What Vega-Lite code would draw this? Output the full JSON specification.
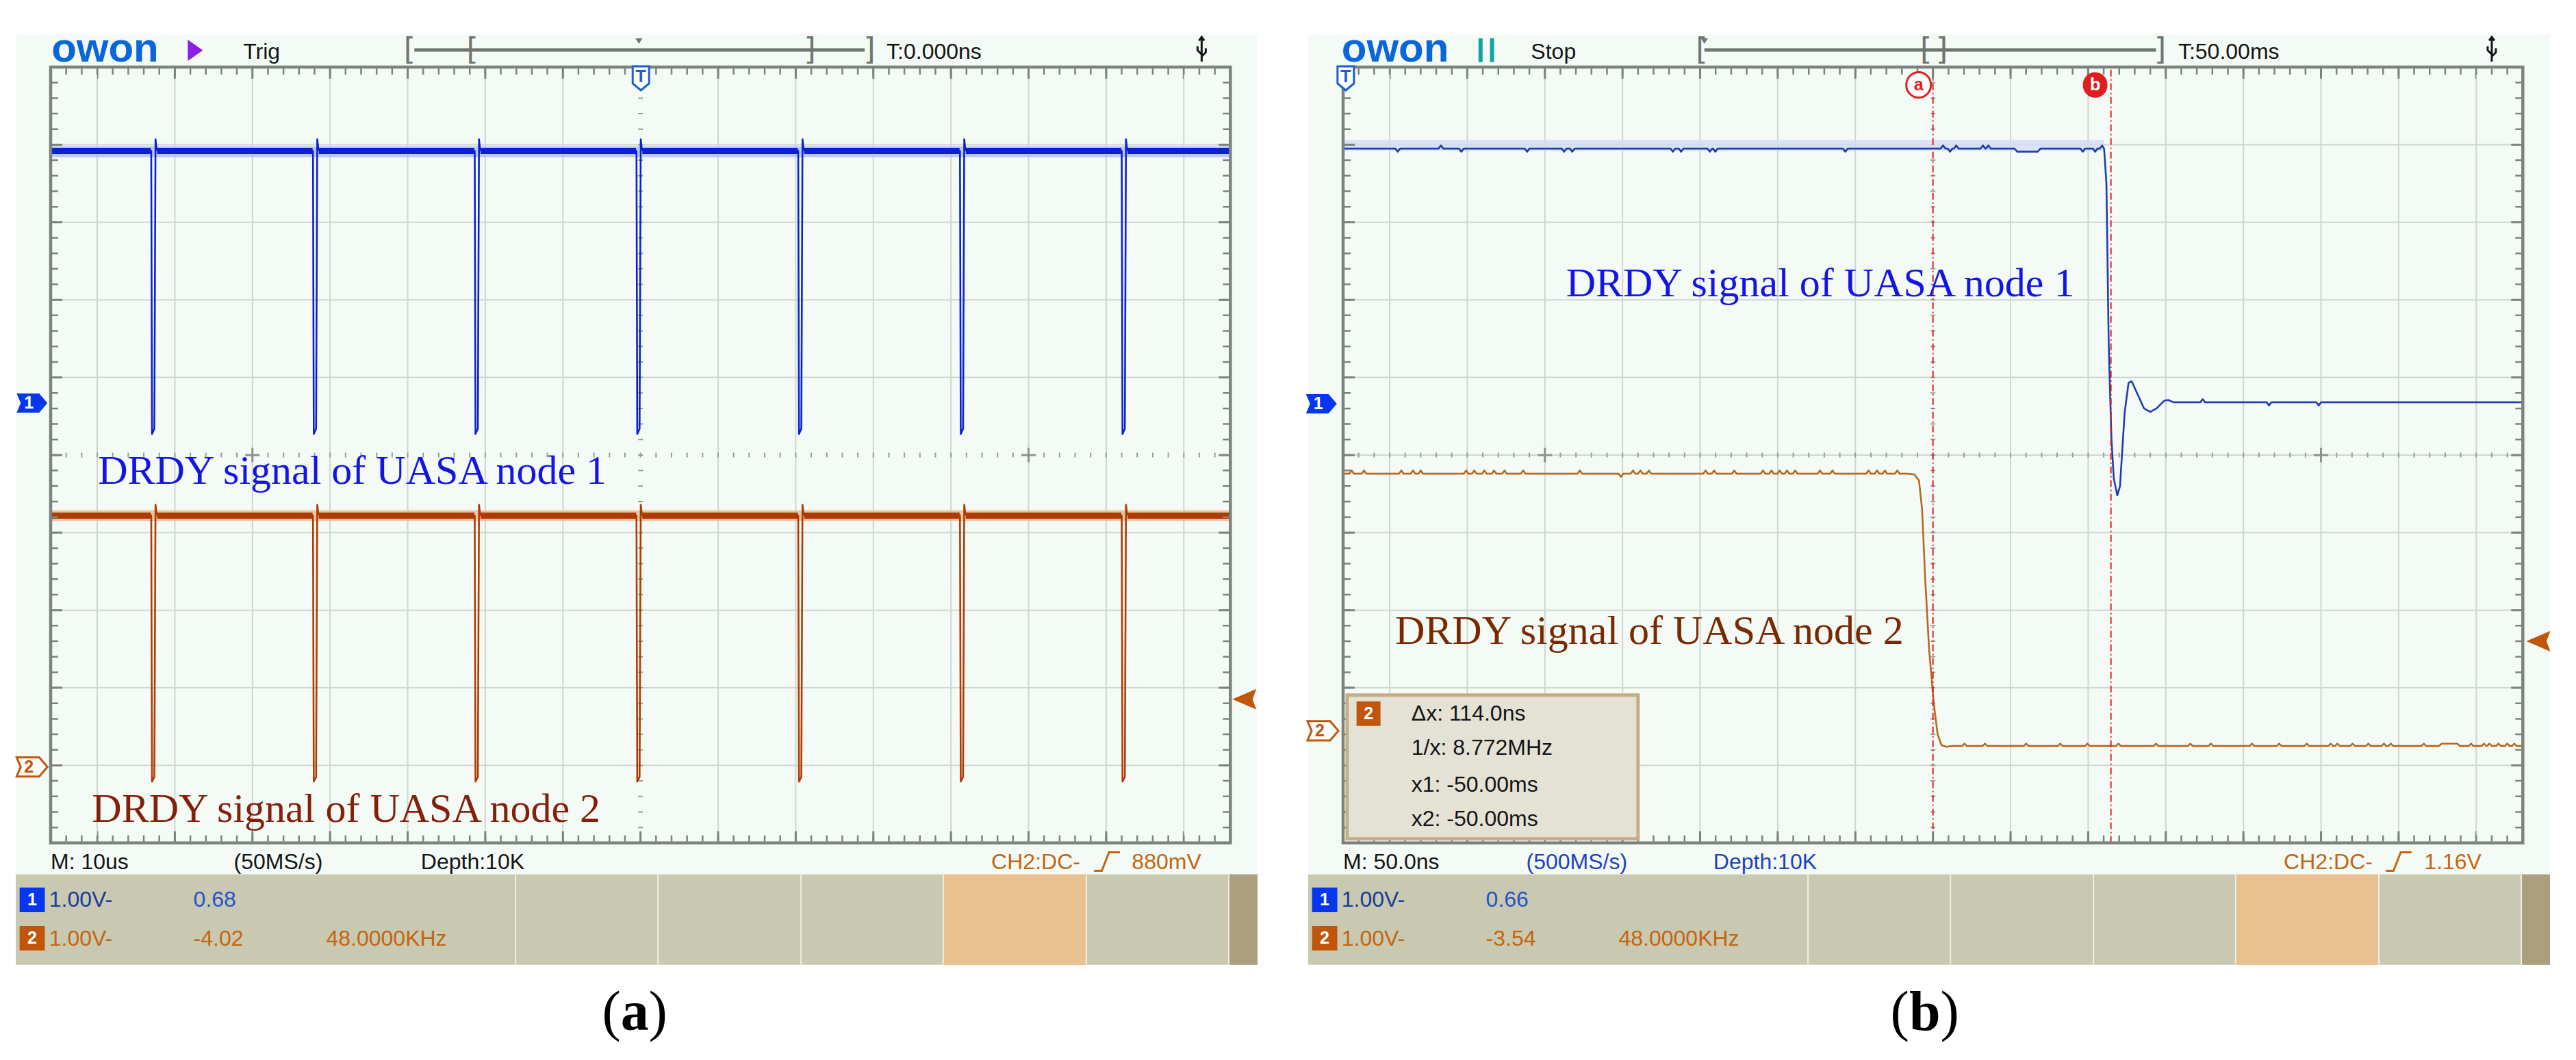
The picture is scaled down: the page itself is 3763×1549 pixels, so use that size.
{
"$schema": "https://vega.github.io/schema/vega-lite/v6.json",
"background": "white",
"padding": {"left": 13, "top": 30, "right": 0, "bottom": 0},
"bounds": "flush",
"spacing": 64,
"config": {"view": {"stroke": null, "fill": null}},
"data": {"values": [
{"p":"a","k":"bg","r":"panel","x":-8.05,"x2":7.95,"y":5.424,"y2":-6.57},
{"p":"a","k":"bg","r":"band","x":-8.05,"x2":7.95,"y":-5.406,"y2":-6.57},
{"p":"a","k":"bg","r":"cell","x":3.9,"x2":5.745,"y":-5.406,"y2":-6.57},
{"p":"a","k":"bg","r":"strip","x":7.58,"x2":7.95,"y":-5.406,"y2":-6.57},
{"p":"b","k":"bg","r":"panel","x":-8.05,"x2":7.95,"y":5.424,"y2":-6.57},
{"p":"b","k":"bg","r":"band","x":-8.05,"x2":7.95,"y":-5.406,"y2":-6.57},
{"p":"b","k":"bg","r":"cell","x":3.9,"x2":5.745,"y":-5.406,"y2":-6.57},
{"p":"b","k":"bg","r":"strip","x":7.58,"x2":7.95,"y":-5.406,"y2":-6.57},

{"p":"a","k":"grid","r":"grid","x":-7,"x2":-7,"y":-5,"y2":5},
{"p":"a","k":"grid","r":"grid","x":-6,"x2":-6,"y":-5,"y2":5},
{"p":"a","k":"grid","r":"grid","x":-5,"x2":-5,"y":-5,"y2":5},
{"p":"a","k":"grid","r":"grid","x":-4,"x2":-4,"y":-5,"y2":5},
{"p":"a","k":"grid","r":"grid","x":-3,"x2":-3,"y":-5,"y2":5},
{"p":"a","k":"grid","r":"grid","x":-2,"x2":-2,"y":-5,"y2":5},
{"p":"a","k":"grid","r":"grid","x":-1,"x2":-1,"y":-5,"y2":5},
{"p":"a","k":"grid","r":"grid","x":1,"x2":1,"y":-5,"y2":5},
{"p":"a","k":"grid","r":"grid","x":2,"x2":2,"y":-5,"y2":5},
{"p":"a","k":"grid","r":"grid","x":3,"x2":3,"y":-5,"y2":5},
{"p":"a","k":"grid","r":"grid","x":4,"x2":4,"y":-5,"y2":5},
{"p":"a","k":"grid","r":"grid","x":5,"x2":5,"y":-5,"y2":5},
{"p":"a","k":"grid","r":"grid","x":6,"x2":6,"y":-5,"y2":5},
{"p":"a","k":"grid","r":"grid","x":7,"x2":7,"y":-5,"y2":5},
{"p":"a","k":"grid","r":"grid","x":-7.6,"x2":7.6,"y":-4,"y2":-4},
{"p":"a","k":"grid","r":"grid","x":-7.6,"x2":7.6,"y":-3,"y2":-3},
{"p":"a","k":"grid","r":"grid","x":-7.6,"x2":7.6,"y":-2,"y2":-2},
{"p":"a","k":"grid","r":"grid","x":-7.6,"x2":7.6,"y":-1,"y2":-1},
{"p":"a","k":"grid","r":"grid","x":-7.6,"x2":7.6,"y":1,"y2":1},
{"p":"a","k":"grid","r":"grid","x":-7.6,"x2":7.6,"y":2,"y2":2},
{"p":"a","k":"grid","r":"grid","x":-7.6,"x2":7.6,"y":3,"y2":3},
{"p":"a","k":"grid","r":"grid","x":-7.6,"x2":7.6,"y":4,"y2":4},
{"p":"a","k":"grid","r":"sep","x":-1.61,"x2":-1.61,"y":-5.406,"y2":-6.57},
{"p":"a","k":"grid","r":"sep","x":0.225,"x2":0.225,"y":-5.406,"y2":-6.57},
{"p":"a","k":"grid","r":"sep","x":2.068,"x2":2.068,"y":-5.406,"y2":-6.57},
{"p":"a","k":"grid","r":"sep","x":3.9,"x2":3.9,"y":-5.406,"y2":-6.57},
{"p":"a","k":"grid","r":"sep","x":5.745,"x2":5.745,"y":-5.406,"y2":-6.57},
{"p":"a","k":"grid","r":"sep","x":7.58,"x2":7.58,"y":-5.406,"y2":-6.57},
{"p":"b","k":"grid","r":"grid","x":-7,"x2":-7,"y":-5,"y2":5},
{"p":"b","k":"grid","r":"grid","x":-6,"x2":-6,"y":-5,"y2":5},
{"p":"b","k":"grid","r":"grid","x":-5,"x2":-5,"y":-5,"y2":5},
{"p":"b","k":"grid","r":"grid","x":-4,"x2":-4,"y":-5,"y2":5},
{"p":"b","k":"grid","r":"grid","x":-3,"x2":-3,"y":-5,"y2":5},
{"p":"b","k":"grid","r":"grid","x":-2,"x2":-2,"y":-5,"y2":5},
{"p":"b","k":"grid","r":"grid","x":-1,"x2":-1,"y":-5,"y2":5},
{"p":"b","k":"grid","r":"grid","x":1,"x2":1,"y":-5,"y2":5},
{"p":"b","k":"grid","r":"grid","x":2,"x2":2,"y":-5,"y2":5},
{"p":"b","k":"grid","r":"grid","x":3,"x2":3,"y":-5,"y2":5},
{"p":"b","k":"grid","r":"grid","x":4,"x2":4,"y":-5,"y2":5},
{"p":"b","k":"grid","r":"grid","x":5,"x2":5,"y":-5,"y2":5},
{"p":"b","k":"grid","r":"grid","x":6,"x2":6,"y":-5,"y2":5},
{"p":"b","k":"grid","r":"grid","x":7,"x2":7,"y":-5,"y2":5},
{"p":"b","k":"grid","r":"grid","x":-7.6,"x2":7.6,"y":-4,"y2":-4},
{"p":"b","k":"grid","r":"grid","x":-7.6,"x2":7.6,"y":-3,"y2":-3},
{"p":"b","k":"grid","r":"grid","x":-7.6,"x2":7.6,"y":-2,"y2":-2},
{"p":"b","k":"grid","r":"grid","x":-7.6,"x2":7.6,"y":-1,"y2":-1},
{"p":"b","k":"grid","r":"grid","x":-7.6,"x2":7.6,"y":0,"y2":0},
{"p":"b","k":"grid","r":"grid","x":-7.6,"x2":7.6,"y":1,"y2":1},
{"p":"b","k":"grid","r":"grid","x":-7.6,"x2":7.6,"y":2,"y2":2},
{"p":"b","k":"grid","r":"grid","x":-7.6,"x2":7.6,"y":3,"y2":3},
{"p":"b","k":"grid","r":"grid","x":-7.6,"x2":7.6,"y":4,"y2":4},
{"p":"b","k":"grid","r":"sep","x":-1.61,"x2":-1.61,"y":-5.406,"y2":-6.57},
{"p":"b","k":"grid","r":"sep","x":0.225,"x2":0.225,"y":-5.406,"y2":-6.57},
{"p":"b","k":"grid","r":"sep","x":2.068,"x2":2.068,"y":-5.406,"y2":-6.57},
{"p":"b","k":"grid","r":"sep","x":3.9,"x2":3.9,"y":-5.406,"y2":-6.57},
{"p":"b","k":"grid","r":"sep","x":5.745,"x2":5.745,"y":-5.406,"y2":-6.57},
{"p":"b","k":"grid","r":"sep","x":7.58,"x2":7.58,"y":-5.406,"y2":-6.57},

{"p":"a","k":"ct","r":"ctick","x":-7.6,"x2":7.6,"y":0,"y2":0},
{"p":"a","k":"ct","r":"ctick","x":0,"x2":0,"y":-5,"y2":5},
{"p":"b","k":"ct","r":"ctick","x":-7.6,"x2":7.6,"y":0,"y2":0},
{"p":"b","k":"ct","r":"ctick","x":0,"x2":0,"y":-5,"y2":5},

{"p":"a","k":"halo","r":"halo1","x":-7.6,"x2":7.6,"y":3.91,"y2":3.91},
{"p":"a","k":"halo","r":"halo2","x":-7.6,"x2":7.6,"y":-0.78,"y2":-0.78},
{"p":"b","k":"halo","r":"halo1b","x":-7.6,"x2":2.2,"y":3.99,"y2":3.99},

{"p":"a","k":"tr","r":"ch1a","x":-7.6,"y":3.92},
{"p":"a","k":"tr","r":"ch1a","x":-6.304,"y":3.92},
{"p":"a","k":"tr","r":"ch1a","x":-6.294,"y":0.27},
{"p":"a","k":"tr","r":"ch1a","x":-6.264,"y":0.34},
{"p":"a","k":"tr","r":"ch1a","x":-6.249,"y":4.07},
{"p":"a","k":"tr","r":"ch1a","x":-6.234,"y":3.93},
{"p":"a","k":"tr","r":"ch1a","x":-4.22,"y":3.92},
{"p":"a","k":"tr","r":"ch1a","x":-4.21,"y":0.27},
{"p":"a","k":"tr","r":"ch1a","x":-4.18,"y":0.34},
{"p":"a","k":"tr","r":"ch1a","x":-4.165,"y":4.07},
{"p":"a","k":"tr","r":"ch1a","x":-4.15,"y":3.93},
{"p":"a","k":"tr","r":"ch1a","x":-2.136,"y":3.92},
{"p":"a","k":"tr","r":"ch1a","x":-2.126,"y":0.27},
{"p":"a","k":"tr","r":"ch1a","x":-2.096,"y":0.34},
{"p":"a","k":"tr","r":"ch1a","x":-2.081,"y":4.07},
{"p":"a","k":"tr","r":"ch1a","x":-2.066,"y":3.93},
{"p":"a","k":"tr","r":"ch1a","x":-0.052,"y":3.92},
{"p":"a","k":"tr","r":"ch1a","x":-0.042,"y":0.27},
{"p":"a","k":"tr","r":"ch1a","x":-0.012,"y":0.34},
{"p":"a","k":"tr","r":"ch1a","x":0.003,"y":4.07},
{"p":"a","k":"tr","r":"ch1a","x":0.018,"y":3.93},
{"p":"a","k":"tr","r":"ch1a","x":2.032,"y":3.92},
{"p":"a","k":"tr","r":"ch1a","x":2.042,"y":0.27},
{"p":"a","k":"tr","r":"ch1a","x":2.072,"y":0.34},
{"p":"a","k":"tr","r":"ch1a","x":2.087,"y":4.07},
{"p":"a","k":"tr","r":"ch1a","x":2.102,"y":3.93},
{"p":"a","k":"tr","r":"ch1a","x":4.116,"y":3.92},
{"p":"a","k":"tr","r":"ch1a","x":4.126,"y":0.27},
{"p":"a","k":"tr","r":"ch1a","x":4.156,"y":0.34},
{"p":"a","k":"tr","r":"ch1a","x":4.171,"y":4.07},
{"p":"a","k":"tr","r":"ch1a","x":4.186,"y":3.93},
{"p":"a","k":"tr","r":"ch1a","x":6.2,"y":3.92},
{"p":"a","k":"tr","r":"ch1a","x":6.21,"y":0.27},
{"p":"a","k":"tr","r":"ch1a","x":6.24,"y":0.34},
{"p":"a","k":"tr","r":"ch1a","x":6.255,"y":4.07},
{"p":"a","k":"tr","r":"ch1a","x":6.27,"y":3.93},
{"p":"a","k":"tr","r":"ch1a","x":7.6,"y":3.92},

{"p":"a","k":"tr","r":"ch2a","x":-7.6,"y":-0.78},
{"p":"a","k":"tr","r":"ch2a","x":-6.304,"y":-0.78},
{"p":"a","k":"tr","r":"ch2a","x":-6.294,"y":-4.21},
{"p":"a","k":"tr","r":"ch2a","x":-6.264,"y":-4.15},
{"p":"a","k":"tr","r":"ch2a","x":-6.249,"y":-0.64},
{"p":"a","k":"tr","r":"ch2a","x":-6.234,"y":-0.77},
{"p":"a","k":"tr","r":"ch2a","x":-4.22,"y":-0.78},
{"p":"a","k":"tr","r":"ch2a","x":-4.21,"y":-4.21},
{"p":"a","k":"tr","r":"ch2a","x":-4.18,"y":-4.15},
{"p":"a","k":"tr","r":"ch2a","x":-4.165,"y":-0.64},
{"p":"a","k":"tr","r":"ch2a","x":-4.15,"y":-0.77},
{"p":"a","k":"tr","r":"ch2a","x":-2.136,"y":-0.78},
{"p":"a","k":"tr","r":"ch2a","x":-2.126,"y":-4.21},
{"p":"a","k":"tr","r":"ch2a","x":-2.096,"y":-4.15},
{"p":"a","k":"tr","r":"ch2a","x":-2.081,"y":-0.64},
{"p":"a","k":"tr","r":"ch2a","x":-2.066,"y":-0.77},
{"p":"a","k":"tr","r":"ch2a","x":-0.052,"y":-0.78},
{"p":"a","k":"tr","r":"ch2a","x":-0.042,"y":-4.21},
{"p":"a","k":"tr","r":"ch2a","x":-0.012,"y":-4.15},
{"p":"a","k":"tr","r":"ch2a","x":0.003,"y":-0.64},
{"p":"a","k":"tr","r":"ch2a","x":0.018,"y":-0.77},
{"p":"a","k":"tr","r":"ch2a","x":2.032,"y":-0.78},
{"p":"a","k":"tr","r":"ch2a","x":2.042,"y":-4.21},
{"p":"a","k":"tr","r":"ch2a","x":2.072,"y":-4.15},
{"p":"a","k":"tr","r":"ch2a","x":2.087,"y":-0.64},
{"p":"a","k":"tr","r":"ch2a","x":2.102,"y":-0.77},
{"p":"a","k":"tr","r":"ch2a","x":4.116,"y":-0.78},
{"p":"a","k":"tr","r":"ch2a","x":4.126,"y":-4.21},
{"p":"a","k":"tr","r":"ch2a","x":4.156,"y":-4.15},
{"p":"a","k":"tr","r":"ch2a","x":4.171,"y":-0.64},
{"p":"a","k":"tr","r":"ch2a","x":4.186,"y":-0.77},
{"p":"a","k":"tr","r":"ch2a","x":6.2,"y":-0.78},
{"p":"a","k":"tr","r":"ch2a","x":6.21,"y":-4.21},
{"p":"a","k":"tr","r":"ch2a","x":6.24,"y":-4.15},
{"p":"a","k":"tr","r":"ch2a","x":6.255,"y":-0.64},
{"p":"a","k":"tr","r":"ch2a","x":6.27,"y":-0.77},
{"p":"a","k":"tr","r":"ch2a","x":7.6,"y":-0.78},

{"p":"b","k":"tr","r":"ch1b","x":-7.6,"y":3.95},
{"p":"b","k":"tr","r":"ch1b","x":-6.926,"y":3.95},{"p":"b","k":"tr","r":"ch1b","x":-6.896,"y":3.91},{"p":"b","k":"tr","r":"ch1b","x":-6.866,"y":3.95},
{"p":"b","k":"tr","r":"ch1b","x":-6.37,"y":3.95},{"p":"b","k":"tr","r":"ch1b","x":-6.34,"y":3.99},{"p":"b","k":"tr","r":"ch1b","x":-6.31,"y":3.95},
{"p":"b","k":"tr","r":"ch1b","x":-6.106,"y":3.95},{"p":"b","k":"tr","r":"ch1b","x":-6.076,"y":3.91},{"p":"b","k":"tr","r":"ch1b","x":-6.046,"y":3.95},
{"p":"b","k":"tr","r":"ch1b","x":-5.259,"y":3.95},{"p":"b","k":"tr","r":"ch1b","x":-5.229,"y":3.91},{"p":"b","k":"tr","r":"ch1b","x":-5.199,"y":3.95},
{"p":"b","k":"tr","r":"ch1b","x":-4.783,"y":3.95},{"p":"b","k":"tr","r":"ch1b","x":-4.753,"y":3.91},{"p":"b","k":"tr","r":"ch1b","x":-4.723,"y":3.95},
{"p":"b","k":"tr","r":"ch1b","x":-4.677,"y":3.95},{"p":"b","k":"tr","r":"ch1b","x":-4.647,"y":3.91},{"p":"b","k":"tr","r":"ch1b","x":-4.617,"y":3.95},
{"p":"b","k":"tr","r":"ch1b","x":-3.381,"y":3.95},{"p":"b","k":"tr","r":"ch1b","x":-3.351,"y":3.91},{"p":"b","k":"tr","r":"ch1b","x":-3.321,"y":3.95},
{"p":"b","k":"tr","r":"ch1b","x":-3.275,"y":3.95},{"p":"b","k":"tr","r":"ch1b","x":-3.245,"y":3.91},{"p":"b","k":"tr","r":"ch1b","x":-3.215,"y":3.95},
{"p":"b","k":"tr","r":"ch1b","x":-2.905,"y":3.95},{"p":"b","k":"tr","r":"ch1b","x":-2.875,"y":3.91},{"p":"b","k":"tr","r":"ch1b","x":-2.845,"y":3.95},
{"p":"b","k":"tr","r":"ch1b","x":-2.834,"y":3.95},{"p":"b","k":"tr","r":"ch1b","x":-2.804,"y":3.91},{"p":"b","k":"tr","r":"ch1b","x":-2.774,"y":3.95},
{"p":"b","k":"tr","r":"ch1b","x":-1.159,"y":3.95},{"p":"b","k":"tr","r":"ch1b","x":-1.129,"y":3.91},{"p":"b","k":"tr","r":"ch1b","x":-1.099,"y":3.95},
{"p":"b","k":"tr","r":"ch1b","x":0.1,"y":3.95},{"p":"b","k":"tr","r":"ch1b","x":0.13,"y":3.99},{"p":"b","k":"tr","r":"ch1b","x":0.16,"y":3.95},
{"p":"b","k":"tr","r":"ch1b","x":0.19,"y":3.95},{"p":"b","k":"tr","r":"ch1b","x":0.22,"y":3.91},{"p":"b","k":"tr","r":"ch1b","x":0.25,"y":3.95},
{"p":"b","k":"tr","r":"ch1b","x":0.27,"y":3.95},{"p":"b","k":"tr","r":"ch1b","x":0.3,"y":3.99},{"p":"b","k":"tr","r":"ch1b","x":0.33,"y":3.95},
{"p":"b","k":"tr","r":"ch1b","x":0.614,"y":3.95},{"p":"b","k":"tr","r":"ch1b","x":0.644,"y":3.99},{"p":"b","k":"tr","r":"ch1b","x":0.674,"y":3.95},
{"p":"b","k":"tr","r":"ch1b","x":0.684,"y":3.95},{"p":"b","k":"tr","r":"ch1b","x":0.714,"y":3.99},{"p":"b","k":"tr","r":"ch1b","x":0.744,"y":3.95},
{"p":"b","k":"tr","r":"ch1b","x":1.05,"y":3.95},{"p":"b","k":"tr","r":"ch1b","x":1.085,"y":3.91},{"p":"b","k":"tr","r":"ch1b","x":1.35,"y":3.91},{"p":"b","k":"tr","r":"ch1b","x":1.385,"y":3.95},
{"p":"b","k":"tr","r":"ch1b","x":1.9,"y":3.95},{"p":"b","k":"tr","r":"ch1b","x":1.93,"y":3.91},{"p":"b","k":"tr","r":"ch1b","x":1.96,"y":3.95},
{"p":"b","k":"tr","r":"ch1b","x":2.06,"y":3.95},{"p":"b","k":"tr","r":"ch1b","x":2.09,"y":3.91},{"p":"b","k":"tr","r":"ch1b","x":2.12,"y":3.95},
{"p":"b","k":"tr","r":"ch1b","x":2.15,"y":3.95},{"p":"b","k":"tr","r":"ch1b","x":2.18,"y":3.99},{"p":"b","k":"tr","r":"ch1b","x":2.205,"y":3.95},
{"p":"b","k":"tr","r":"ch1b","x":2.235,"y":3.5},{"p":"b","k":"tr","r":"ch1b","x":2.265,"y":1.4},{"p":"b","k":"tr","r":"ch1b","x":2.3,"y":0.2},
{"p":"b","k":"tr","r":"ch1b","x":2.33,"y":-0.3},{"p":"b","k":"tr","r":"ch1b","x":2.375,"y":-0.52},{"p":"b","k":"tr","r":"ch1b","x":2.41,"y":-0.4},
{"p":"b","k":"tr","r":"ch1b","x":2.47,"y":0.55},{"p":"b","k":"tr","r":"ch1b","x":2.52,"y":0.93},{"p":"b","k":"tr","r":"ch1b","x":2.56,"y":0.95},
{"p":"b","k":"tr","r":"ch1b","x":2.62,"y":0.82},{"p":"b","k":"tr","r":"ch1b","x":2.72,"y":0.6},{"p":"b","k":"tr","r":"ch1b","x":2.8,"y":0.556},
{"p":"b","k":"tr","r":"ch1b","x":2.88,"y":0.6},{"p":"b","k":"tr","r":"ch1b","x":2.98,"y":0.7},{"p":"b","k":"tr","r":"ch1b","x":3.03,"y":0.71},
{"p":"b","k":"tr","r":"ch1b","x":3.1,"y":0.68},{"p":"b","k":"tr","r":"ch1b","x":3.445,"y":0.68},{"p":"b","k":"tr","r":"ch1b","x":3.475,"y":0.72},
{"p":"b","k":"tr","r":"ch1b","x":3.505,"y":0.68},{"p":"b","k":"tr","r":"ch1b","x":4.3,"y":0.68},{"p":"b","k":"tr","r":"ch1b","x":4.33,"y":0.64},
{"p":"b","k":"tr","r":"ch1b","x":4.36,"y":0.68},{"p":"b","k":"tr","r":"ch1b","x":4.94,"y":0.68},{"p":"b","k":"tr","r":"ch1b","x":4.97,"y":0.64},
{"p":"b","k":"tr","r":"ch1b","x":5.0,"y":0.68},{"p":"b","k":"tr","r":"ch1b","x":7.6,"y":0.68},

{"p":"b","k":"tr","r":"ch2b","x":-7.6,"y":-0.24},
{"p":"b","k":"tr","r":"ch2b","x":-7.52,"y":-0.24},{"p":"b","k":"tr","r":"ch2b","x":-7.49,"y":-0.2},{"p":"b","k":"tr","r":"ch2b","x":-7.46,"y":-0.24},
{"p":"b","k":"tr","r":"ch2b","x":-7.36,"y":-0.24},{"p":"b","k":"tr","r":"ch2b","x":-7.33,"y":-0.2},{"p":"b","k":"tr","r":"ch2b","x":-7.3,"y":-0.24},
{"p":"b","k":"tr","r":"ch2b","x":-6.88,"y":-0.24},{"p":"b","k":"tr","r":"ch2b","x":-6.85,"y":-0.2},{"p":"b","k":"tr","r":"ch2b","x":-6.82,"y":-0.24},
{"p":"b","k":"tr","r":"ch2b","x":-6.73,"y":-0.24},{"p":"b","k":"tr","r":"ch2b","x":-6.7,"y":-0.2},{"p":"b","k":"tr","r":"ch2b","x":-6.67,"y":-0.24},
{"p":"b","k":"tr","r":"ch2b","x":-6.63,"y":-0.24},{"p":"b","k":"tr","r":"ch2b","x":-6.6,"y":-0.2},{"p":"b","k":"tr","r":"ch2b","x":-6.57,"y":-0.24},
{"p":"b","k":"tr","r":"ch2b","x":-6.045,"y":-0.24},{"p":"b","k":"tr","r":"ch2b","x":-6.015,"y":-0.2},{"p":"b","k":"tr","r":"ch2b","x":-5.985,"y":-0.24},
{"p":"b","k":"tr","r":"ch2b","x":-5.94,"y":-0.24},{"p":"b","k":"tr","r":"ch2b","x":-5.91,"y":-0.2},{"p":"b","k":"tr","r":"ch2b","x":-5.88,"y":-0.24},
{"p":"b","k":"tr","r":"ch2b","x":-5.81,"y":-0.24},{"p":"b","k":"tr","r":"ch2b","x":-5.78,"y":-0.2},{"p":"b","k":"tr","r":"ch2b","x":-5.75,"y":-0.24},
{"p":"b","k":"tr","r":"ch2b","x":-5.685,"y":-0.24},{"p":"b","k":"tr","r":"ch2b","x":-5.655,"y":-0.2},{"p":"b","k":"tr","r":"ch2b","x":-5.625,"y":-0.24},
{"p":"b","k":"tr","r":"ch2b","x":-5.55,"y":-0.24},{"p":"b","k":"tr","r":"ch2b","x":-5.52,"y":-0.2},{"p":"b","k":"tr","r":"ch2b","x":-5.49,"y":-0.24},
{"p":"b","k":"tr","r":"ch2b","x":-5.31,"y":-0.24},{"p":"b","k":"tr","r":"ch2b","x":-5.28,"y":-0.2},{"p":"b","k":"tr","r":"ch2b","x":-5.25,"y":-0.24},
{"p":"b","k":"tr","r":"ch2b","x":-4.58,"y":-0.24},{"p":"b","k":"tr","r":"ch2b","x":-4.55,"y":-0.2},{"p":"b","k":"tr","r":"ch2b","x":-4.52,"y":-0.24},
{"p":"b","k":"tr","r":"ch2b","x":-4.05,"y":-0.24},{"p":"b","k":"tr","r":"ch2b","x":-4.02,"y":-0.28},{"p":"b","k":"tr","r":"ch2b","x":-3.99,"y":-0.24},
{"p":"b","k":"tr","r":"ch2b","x":-3.895,"y":-0.24},{"p":"b","k":"tr","r":"ch2b","x":-3.865,"y":-0.2},{"p":"b","k":"tr","r":"ch2b","x":-3.835,"y":-0.24},
{"p":"b","k":"tr","r":"ch2b","x":-3.8,"y":-0.24},{"p":"b","k":"tr","r":"ch2b","x":-3.77,"y":-0.2},{"p":"b","k":"tr","r":"ch2b","x":-3.74,"y":-0.24},
{"p":"b","k":"tr","r":"ch2b","x":-3.69,"y":-0.24},{"p":"b","k":"tr","r":"ch2b","x":-3.66,"y":-0.2},{"p":"b","k":"tr","r":"ch2b","x":-3.63,"y":-0.24},
{"p":"b","k":"tr","r":"ch2b","x":-2.96,"y":-0.24},{"p":"b","k":"tr","r":"ch2b","x":-2.93,"y":-0.2},{"p":"b","k":"tr","r":"ch2b","x":-2.9,"y":-0.24},
{"p":"b","k":"tr","r":"ch2b","x":-2.85,"y":-0.24},{"p":"b","k":"tr","r":"ch2b","x":-2.82,"y":-0.2},{"p":"b","k":"tr","r":"ch2b","x":-2.79,"y":-0.24},
{"p":"b","k":"tr","r":"ch2b","x":-2.59,"y":-0.24},{"p":"b","k":"tr","r":"ch2b","x":-2.56,"y":-0.2},{"p":"b","k":"tr","r":"ch2b","x":-2.53,"y":-0.24},
{"p":"b","k":"tr","r":"ch2b","x":-2.22,"y":-0.24},{"p":"b","k":"tr","r":"ch2b","x":-2.19,"y":-0.2},{"p":"b","k":"tr","r":"ch2b","x":-2.16,"y":-0.24},
{"p":"b","k":"tr","r":"ch2b","x":-2.11,"y":-0.24},{"p":"b","k":"tr","r":"ch2b","x":-2.08,"y":-0.2},{"p":"b","k":"tr","r":"ch2b","x":-2.05,"y":-0.24},
{"p":"b","k":"tr","r":"ch2b","x":-2.005,"y":-0.24},{"p":"b","k":"tr","r":"ch2b","x":-1.975,"y":-0.2},{"p":"b","k":"tr","r":"ch2b","x":-1.945,"y":-0.24},
{"p":"b","k":"tr","r":"ch2b","x":-1.91,"y":-0.24},{"p":"b","k":"tr","r":"ch2b","x":-1.88,"y":-0.2},{"p":"b","k":"tr","r":"ch2b","x":-1.85,"y":-0.24},
{"p":"b","k":"tr","r":"ch2b","x":-1.805,"y":-0.24},{"p":"b","k":"tr","r":"ch2b","x":-1.775,"y":-0.2},{"p":"b","k":"tr","r":"ch2b","x":-1.745,"y":-0.24},
{"p":"b","k":"tr","r":"ch2b","x":-1.485,"y":-0.24},{"p":"b","k":"tr","r":"ch2b","x":-1.455,"y":-0.2},{"p":"b","k":"tr","r":"ch2b","x":-1.425,"y":-0.24},
{"p":"b","k":"tr","r":"ch2b","x":-1.325,"y":-0.24},{"p":"b","k":"tr","r":"ch2b","x":-1.295,"y":-0.2},{"p":"b","k":"tr","r":"ch2b","x":-1.265,"y":-0.24},
{"p":"b","k":"tr","r":"ch2b","x":-0.86,"y":-0.24},{"p":"b","k":"tr","r":"ch2b","x":-0.83,"y":-0.2},{"p":"b","k":"tr","r":"ch2b","x":-0.8,"y":-0.24},
{"p":"b","k":"tr","r":"ch2b","x":-0.75,"y":-0.24},{"p":"b","k":"tr","r":"ch2b","x":-0.72,"y":-0.2},{"p":"b","k":"tr","r":"ch2b","x":-0.69,"y":-0.24},
{"p":"b","k":"tr","r":"ch2b","x":-0.65,"y":-0.24},{"p":"b","k":"tr","r":"ch2b","x":-0.62,"y":-0.2},{"p":"b","k":"tr","r":"ch2b","x":-0.59,"y":-0.24},
{"p":"b","k":"tr","r":"ch2b","x":-0.49,"y":-0.24},{"p":"b","k":"tr","r":"ch2b","x":-0.46,"y":-0.2},{"p":"b","k":"tr","r":"ch2b","x":-0.43,"y":-0.24},
{"p":"b","k":"tr","r":"ch2b","x":-0.33,"y":-0.24},{"p":"b","k":"tr","r":"ch2b","x":-0.24,"y":-0.25},{"p":"b","k":"tr","r":"ch2b","x":-0.18,"y":-0.33},
{"p":"b","k":"tr","r":"ch2b","x":-0.14,"y":-0.7},{"p":"b","k":"tr","r":"ch2b","x":-0.1,"y":-1.6},{"p":"b","k":"tr","r":"ch2b","x":-0.05,"y":-2.5},
{"p":"b","k":"tr","r":"ch2b","x":0.01,"y":-3.2},{"p":"b","k":"tr","r":"ch2b","x":0.06,"y":-3.6},{"p":"b","k":"tr","r":"ch2b","x":0.11,"y":-3.74},
{"p":"b","k":"tr","r":"ch2b","x":0.17,"y":-3.76},{"p":"b","k":"tr","r":"ch2b","x":0.25,"y":-3.75},
{"p":"b","k":"tr","r":"ch2b","x":0.376,"y":-3.75},{"p":"b","k":"tr","r":"ch2b","x":0.406,"y":-3.72},{"p":"b","k":"tr","r":"ch2b","x":0.436,"y":-3.75},
{"p":"b","k":"tr","r":"ch2b","x":0.64,"y":-3.75},{"p":"b","k":"tr","r":"ch2b","x":0.67,"y":-3.72},{"p":"b","k":"tr","r":"ch2b","x":0.7,"y":-3.75},
{"p":"b","k":"tr","r":"ch2b","x":1.17,"y":-3.75},{"p":"b","k":"tr","r":"ch2b","x":1.2,"y":-3.72},{"p":"b","k":"tr","r":"ch2b","x":1.23,"y":-3.75},
{"p":"b","k":"tr","r":"ch2b","x":1.61,"y":-3.75},{"p":"b","k":"tr","r":"ch2b","x":1.64,"y":-3.72},{"p":"b","k":"tr","r":"ch2b","x":1.67,"y":-3.75},
{"p":"b","k":"tr","r":"ch2b","x":1.96,"y":-3.75},{"p":"b","k":"tr","r":"ch2b","x":1.99,"y":-3.72},{"p":"b","k":"tr","r":"ch2b","x":2.02,"y":-3.75},
{"p":"b","k":"tr","r":"ch2b","x":2.36,"y":-3.75},{"p":"b","k":"tr","r":"ch2b","x":2.39,"y":-3.72},{"p":"b","k":"tr","r":"ch2b","x":2.42,"y":-3.75},
{"p":"b","k":"tr","r":"ch2b","x":2.845,"y":-3.75},{"p":"b","k":"tr","r":"ch2b","x":2.875,"y":-3.72},{"p":"b","k":"tr","r":"ch2b","x":2.905,"y":-3.75},
{"p":"b","k":"tr","r":"ch2b","x":3.286,"y":-3.75},{"p":"b","k":"tr","r":"ch2b","x":3.316,"y":-3.72},{"p":"b","k":"tr","r":"ch2b","x":3.346,"y":-3.75},
{"p":"b","k":"tr","r":"ch2b","x":3.55,"y":-3.75},{"p":"b","k":"tr","r":"ch2b","x":3.58,"y":-3.72},{"p":"b","k":"tr","r":"ch2b","x":3.61,"y":-3.75},
{"p":"b","k":"tr","r":"ch2b","x":4.08,"y":-3.75},{"p":"b","k":"tr","r":"ch2b","x":4.11,"y":-3.72},{"p":"b","k":"tr","r":"ch2b","x":4.14,"y":-3.75},
{"p":"b","k":"tr","r":"ch2b","x":4.43,"y":-3.75},{"p":"b","k":"tr","r":"ch2b","x":4.46,"y":-3.72},{"p":"b","k":"tr","r":"ch2b","x":4.49,"y":-3.75},
{"p":"b","k":"tr","r":"ch2b","x":4.786,"y":-3.75},{"p":"b","k":"tr","r":"ch2b","x":4.816,"y":-3.72},{"p":"b","k":"tr","r":"ch2b","x":4.846,"y":-3.75},
{"p":"b","k":"tr","r":"ch2b","x":5.095,"y":-3.75},{"p":"b","k":"tr","r":"ch2b","x":5.125,"y":-3.72},{"p":"b","k":"tr","r":"ch2b","x":5.155,"y":-3.75},
{"p":"b","k":"tr","r":"ch2b","x":5.18,"y":-3.75},{"p":"b","k":"tr","r":"ch2b","x":5.21,"y":-3.72},{"p":"b","k":"tr","r":"ch2b","x":5.24,"y":-3.75},
{"p":"b","k":"tr","r":"ch2b","x":5.377,"y":-3.75},{"p":"b","k":"tr","r":"ch2b","x":5.407,"y":-3.72},{"p":"b","k":"tr","r":"ch2b","x":5.437,"y":-3.75},
{"p":"b","k":"tr","r":"ch2b","x":5.58,"y":-3.75},{"p":"b","k":"tr","r":"ch2b","x":5.61,"y":-3.72},{"p":"b","k":"tr","r":"ch2b","x":5.64,"y":-3.75},
{"p":"b","k":"tr","r":"ch2b","x":5.78,"y":-3.75},{"p":"b","k":"tr","r":"ch2b","x":5.81,"y":-3.72},{"p":"b","k":"tr","r":"ch2b","x":5.84,"y":-3.75},
{"p":"b","k":"tr","r":"ch2b","x":5.87,"y":-3.75},{"p":"b","k":"tr","r":"ch2b","x":5.9,"y":-3.72},{"p":"b","k":"tr","r":"ch2b","x":5.93,"y":-3.75},
{"p":"b","k":"tr","r":"ch2b","x":6.294,"y":-3.75},{"p":"b","k":"tr","r":"ch2b","x":6.324,"y":-3.72},{"p":"b","k":"tr","r":"ch2b","x":6.354,"y":-3.75},
{"p":"b","k":"tr","r":"ch2b","x":6.52,"y":-3.75},{"p":"b","k":"tr","r":"ch2b","x":6.553,"y":-3.72},{"p":"b","k":"tr","r":"ch2b","x":6.756,"y":-3.72},{"p":"b","k":"tr","r":"ch2b","x":6.79,"y":-3.75},
{"p":"b","k":"tr","r":"ch2b","x":6.903,"y":-3.75},{"p":"b","k":"tr","r":"ch2b","x":6.933,"y":-3.72},{"p":"b","k":"tr","r":"ch2b","x":6.963,"y":-3.75},
{"p":"b","k":"tr","r":"ch2b","x":7.07,"y":-3.75},{"p":"b","k":"tr","r":"ch2b","x":7.1,"y":-3.72},{"p":"b","k":"tr","r":"ch2b","x":7.13,"y":-3.75},
{"p":"b","k":"tr","r":"ch2b","x":7.14,"y":-3.75},{"p":"b","k":"tr","r":"ch2b","x":7.17,"y":-3.72},{"p":"b","k":"tr","r":"ch2b","x":7.2,"y":-3.75},
{"p":"b","k":"tr","r":"ch2b","x":7.256,"y":-3.75},{"p":"b","k":"tr","r":"ch2b","x":7.286,"y":-3.72},{"p":"b","k":"tr","r":"ch2b","x":7.316,"y":-3.75},
{"p":"b","k":"tr","r":"ch2b","x":7.37,"y":-3.75},{"p":"b","k":"tr","r":"ch2b","x":7.4,"y":-3.72},{"p":"b","k":"tr","r":"ch2b","x":7.43,"y":-3.75},
{"p":"b","k":"tr","r":"ch2b","x":7.46,"y":-3.75},{"p":"b","k":"tr","r":"ch2b","x":7.49,"y":-3.72},{"p":"b","k":"tr","r":"ch2b","x":7.52,"y":-3.75},
{"p":"b","k":"tr","r":"ch2b","x":7.6,"y":-3.75},

{"p":"a","k":"band","r":"ch1a","x":-7.6,"x2":-6.309,"y":3.92,"y2":3.92},
{"p":"a","k":"band","r":"ch1a","x":-6.229,"x2":-4.225,"y":3.92,"y2":3.92},
{"p":"a","k":"band","r":"ch1a","x":-4.145,"x2":-2.141,"y":3.92,"y2":3.92},
{"p":"a","k":"band","r":"ch1a","x":-2.061,"x2":-0.057,"y":3.92,"y2":3.92},
{"p":"a","k":"band","r":"ch1a","x":0.023,"x2":2.027,"y":3.92,"y2":3.92},
{"p":"a","k":"band","r":"ch1a","x":2.107,"x2":4.111,"y":3.92,"y2":3.92},
{"p":"a","k":"band","r":"ch1a","x":4.191,"x2":6.195,"y":3.92,"y2":3.92},
{"p":"a","k":"band","r":"ch1a","x":6.275,"x2":7.6,"y":3.92,"y2":3.92},
{"p":"a","k":"band","r":"ch2a","x":-7.6,"x2":-6.309,"y":-0.78,"y2":-0.78},
{"p":"a","k":"band","r":"ch2a","x":-6.229,"x2":-4.225,"y":-0.78,"y2":-0.78},
{"p":"a","k":"band","r":"ch2a","x":-4.145,"x2":-2.141,"y":-0.78,"y2":-0.78},
{"p":"a","k":"band","r":"ch2a","x":-2.061,"x2":-0.057,"y":-0.78,"y2":-0.78},
{"p":"a","k":"band","r":"ch2a","x":0.023,"x2":2.027,"y":-0.78,"y2":-0.78},
{"p":"a","k":"band","r":"ch2a","x":2.107,"x2":4.111,"y":-0.78,"y2":-0.78},
{"p":"a","k":"band","r":"ch2a","x":4.191,"x2":6.195,"y":-0.78,"y2":-0.78},
{"p":"a","k":"band","r":"ch2a","x":6.275,"x2":7.6,"y":-0.78,"y2":-0.78},

{"p":"b","k":"cur","r":"red","x":0,"x2":0,"y":-5,"y2":5},
{"p":"b","k":"cur","r":"red","x":2.293,"x2":2.293,"y":-5,"y2":5},

{"p":"a","k":"fr","r":"frame","x":-7.6,"x2":7.6,"y":-5,"y2":5},
{"p":"b","k":"fr","r":"frame","x":-7.6,"x2":7.6,"y":-5,"y2":5},

{"p":"a","k":"mt","r":"frame","x":-7,"x2":7,"y":4.916,"y2":4.916},
{"p":"a","k":"mt","r":"frame","x":-7,"x2":7,"y":-4.916,"y2":-4.916},
{"p":"a","k":"mt","r":"frame","x":-7.516,"x2":-7.516,"y":-5,"y2":5},
{"p":"a","k":"mt","r":"frame","x":7.516,"x2":7.516,"y":-5,"y2":5},
{"p":"b","k":"mt","r":"frame","x":-7,"x2":7,"y":4.916,"y2":4.916},
{"p":"b","k":"mt","r":"frame","x":-7,"x2":7,"y":-4.916,"y2":-4.916},
{"p":"b","k":"mt","r":"frame","x":-7.516,"x2":-7.516,"y":-5,"y2":5},
{"p":"b","k":"mt","r":"frame","x":7.516,"x2":7.516,"y":-5,"y2":5},
{"p":"a","k":"nt","r":"frame","x":-7.6,"x2":7.6,"y":4.943,"y2":4.943},
{"p":"a","k":"nt","r":"frame","x":-7.6,"x2":7.6,"y":-4.943,"y2":-4.943},
{"p":"a","k":"nt","r":"frame","x":-7.543,"x2":-7.543,"y":-5,"y2":5},
{"p":"a","k":"nt","r":"frame","x":7.543,"x2":7.543,"y":-5,"y2":5},
{"p":"b","k":"nt","r":"frame","x":-7.6,"x2":7.6,"y":4.943,"y2":4.943},
{"p":"b","k":"nt","r":"frame","x":-7.6,"x2":7.6,"y":-4.943,"y2":-4.943},
{"p":"b","k":"nt","r":"frame","x":-7.543,"x2":-7.543,"y":-5,"y2":5},
{"p":"b","k":"nt","r":"frame","x":7.543,"x2":7.543,"y":-5,"y2":5},

{"p":"a","k":"tl","r":"tl","x":-2.914,"x2":2.888,"y":5.222,"y2":5.222},
{"p":"b","k":"tl","r":"tl","x":-2.945,"x2":2.875,"y":5.222,"y2":5.222},
{"p":"a","k":"br","r":"tl","t":"[","x":-2.976,"y":5.1},
{"p":"a","k":"br","r":"tl","t":"[","x":-2.165,"y":5.1},
{"p":"a","k":"br","r":"tl","t":"]","x":2.183,"y":5.1},
{"p":"a","k":"br","r":"tl","t":"]","x":2.95,"y":5.1},
{"p":"b","k":"br","r":"tl","t":"[","x":-2.98,"y":5.1},
{"p":"b","k":"br","r":"tl","t":"[","x":-0.088,"y":5.1},
{"p":"b","k":"br","r":"tl","t":"]","x":0.115,"y":5.1},
{"p":"b","k":"br","r":"tl","t":"]","x":2.928,"y":5.1},

{"p":"a","k":"sym","sh":"play","r":"play","x":-5.736,"y":5.217},
{"p":"a","k":"sym","sh":"chev","r":"m1","x":-7.84,"y":0.67},
{"p":"a","k":"sym","sh":"tlev","r":"m2","x":7.78,"y":-3.148},
{"p":"a","k":"sym","sh":"tmark","r":"tl","x":-0.02,"y":5.336},
{"p":"b","k":"sym","sh":"pause","r":"pause","x":-5.755,"y":5.217},
{"p":"b","k":"sym","sh":"chev","r":"m1","x":-7.88,"y":0.66},
{"p":"b","k":"sym","sh":"tlev","r":"m2","x":7.8,"y":-2.4},
{"p":"b","k":"sym","sh":"circ","r":"red","x":2.09,"y":4.77},
{"p":"b","k":"sym","sh":"tmark","r":"tl","x":-2.945,"y":5.336},

{"p":"a","k":"osym","sh":"trigT","r":"trigb","x":0.005,"y":4.855},
{"p":"a","k":"osym","sh":"chev","r":"m2","x":-7.84,"y":-4.02},
{"p":"b","k":"osym","sh":"trigT","r":"trigb","x":-7.566,"y":4.855},
{"p":"b","k":"osym","sh":"chev","r":"m2","x":-7.86,"y":-3.554},
{"p":"b","k":"osym","sh":"circ","r":"red","x":-0.185,"y":4.77},

{"p":"a","k":"lsym","sh":"usb","r":"ui","x":7.23,"y":5.23},
{"p":"a","k":"lsym","sh":"plus","r":"plusc","x":-5,"y":0},
{"p":"a","k":"lsym","sh":"plus","r":"plusc","x":5,"y":0},
{"p":"a","k":"lsym","sh":"edge","r":"t2","x":6.01,"y":-5.24},
{"p":"b","k":"lsym","sh":"usb","r":"ui","x":7.2,"y":5.23},
{"p":"b","k":"lsym","sh":"plus","r":"plusc","x":-5,"y":0},
{"p":"b","k":"lsym","sh":"plus","r":"plusc","x":5,"y":0},
{"p":"b","k":"lsym","sh":"edge","r":"t2","x":6.0,"y":-5.24},

{"p":"b","k":"cbx","r":"box","x":-7.548,"x2":-3.8,"y":-3.095,"y2":-4.947},

{"p":"a","k":"sb","r":"m1","x":-8.0,"x2":-7.675,"y":-5.574,"y2":-5.892},
{"p":"a","k":"sb","r":"m2","x":-8.0,"x2":-7.675,"y":-6.068,"y2":-6.386},
{"p":"b","k":"sb","r":"m1","x":-8.0,"x2":-7.675,"y":-5.574,"y2":-5.892},
{"p":"b","k":"sb","r":"m2","x":-8.0,"x2":-7.675,"y":-6.068,"y2":-6.386},
{"p":"b","k":"sb","r":"m2","x":-7.427,"x2":-7.118,"y":-3.175,"y2":-3.492},

{"p":"a","k":"dig","r":"white","t":"1","x":-7.838,"y":-5.733},
{"p":"a","k":"dig","r":"white","t":"2","x":-7.838,"y":-6.227},
{"p":"a","k":"dig","r":"white","t":"1","x":-7.88,"y":0.67},
{"p":"a","k":"dig","r":"m2","t":"2","x":-7.88,"y":-4.02},
{"p":"a","k":"dig","r":"trigb","t":"T","x":0.005,"y":4.88},
{"p":"b","k":"dig","r":"white","t":"1","x":-7.838,"y":-5.733},
{"p":"b","k":"dig","r":"white","t":"2","x":-7.838,"y":-6.227},
{"p":"b","k":"dig","r":"white","t":"1","x":-7.92,"y":0.66},
{"p":"b","k":"dig","r":"m2","t":"2","x":-7.9,"y":-3.554},
{"p":"b","k":"dig","r":"trigb","t":"T","x":-7.566,"y":4.88},
{"p":"b","k":"dig","r":"white","t":"2","x":-7.272,"y":-3.334},
{"p":"b","k":"dig","r":"red","t":"a","x":-0.185,"y":4.77},
{"p":"b","k":"dig","r":"white","t":"b","x":2.09,"y":4.77},

{"p":"a","k":"ui","r":"ui","t":"Trig","x":-5.12,"y":5.107},
{"p":"a","k":"ui","r":"ui","t":"T:0.000ns","x":3.17,"y":5.107},
{"p":"a","k":"ui","r":"ui","t":"M: 10us","x":-7.6,"y":-5.336},
{"p":"a","k":"ui","r":"ui","t":"(50MS/s)","x":-5.24,"y":-5.336},
{"p":"a","k":"ui","r":"ui","t":"Depth:10K","x":-2.83,"y":-5.336},
{"p":"a","k":"ui","r":"t2","t":"CH2:DC-","x":4.52,"y":-5.336},
{"p":"a","k":"ui","r":"t2","t":"880mV","x":6.33,"y":-5.336},
{"p":"a","k":"ui","r":"t1","t":"1.00V-","x":-7.62,"y":-5.821},
{"p":"a","k":"ui","r":"v1","t":"0.68","x":-5.76,"y":-5.821},
{"p":"a","k":"ui","r":"t2","t":"1.00V-","x":-7.62,"y":-6.324},
{"p":"a","k":"ui","r":"t2","t":"-4.02","x":-5.76,"y":-6.324},
{"p":"a","k":"ui","r":"t2","t":"48.0000KHz","x":-4.05,"y":-6.324},
{"p":"b","k":"ui","r":"ui","t":"Stop","x":-5.18,"y":5.107},
{"p":"b","k":"ui","r":"ui","t":"T:50.00ms","x":3.16,"y":5.107},
{"p":"b","k":"ui","r":"ui","t":"M: 50.0ns","x":-7.6,"y":-5.336},
{"p":"b","k":"ui","r":"uiblue","t":"(500MS/s)","x":-5.24,"y":-5.336},
{"p":"b","k":"ui","r":"uiblue","t":"Depth:10K","x":-2.83,"y":-5.336},
{"p":"b","k":"ui","r":"t2","t":"CH2:DC-","x":4.52,"y":-5.336},
{"p":"b","k":"ui","r":"t2","t":"1.16V","x":6.33,"y":-5.336},
{"p":"b","k":"ui","r":"t1","t":"1.00V-","x":-7.62,"y":-5.821},
{"p":"b","k":"ui","r":"v1","t":"0.66","x":-5.76,"y":-5.821},
{"p":"b","k":"ui","r":"t2","t":"1.00V-","x":-7.62,"y":-6.324},
{"p":"b","k":"ui","r":"t2","t":"-3.54","x":-5.76,"y":-6.324},
{"p":"b","k":"ui","r":"t2","t":"48.0000KHz","x":-4.05,"y":-6.324},
{"p":"b","k":"ui","r":"ui","t":"Δx: 114.0ns","x":-6.72,"y":-3.422},
{"p":"b","k":"ui","r":"ui","t":"1/x: 8.772MHz","x":-6.72,"y":-3.862},
{"p":"b","k":"ui","r":"ui","t":"x1: -50.00ms","x":-6.72,"y":-4.339},
{"p":"b","k":"ui","r":"ui","t":"x2: -50.00ms","x":-6.72,"y":-4.78},

{"p":"a","k":"logo","r":"logo","t":"owon","x":-7.59,"y":5.072},
{"p":"b","k":"logo","r":"logo","t":"owon","x":-7.62,"y":5.072},

{"p":"a","k":"ann","r":"lab1","t":"DRDY signal of UASA node 1","x":-6.989,"y":-0.37},
{"p":"a","k":"ann","r":"lab2a","t":"DRDY signal of UASA node 2","x":-7.068,"y":-4.727},
{"p":"b","k":"ann","r":"lab1","t":"DRDY signal of UASA node 1","x":-4.727,"y":2.046},
{"p":"b","k":"ann","r":"lab2b","t":"DRDY signal of UASA node 2","x":-6.93,"y":-2.434},

{"p":"a","k":"cp","r":"cap","t":"(","x":-0.375,"y":-7.409},
{"p":"a","k":"cp","r":"cap","t":")","x":0.225,"y":-7.409},
{"p":"a","k":"cl","r":"cap","t":"a","x":-0.075,"y":-7.409},
{"p":"b","k":"cp","r":"cap","t":"(","x":-0.427,"y":-7.409},
{"p":"b","k":"cp","r":"cap","t":")","x":0.216,"y":-7.409},
{"p":"b","k":"cl","r":"cap","t":"b","x":-0.105,"y":-7.409}
]},
"facet": {"column": {"field": "p", "type": "nominal", "title": null, "header": {"labels": false, "title": null, "labelPadding": 0, "titlePadding": 0}}},
"spec": {
"width": 1824,
"height": 1500,
"layer": [
{"transform": [{"filter": {"field": "k", "equal": "bg"}}],
 "mark": {"type": "rect"},
 "encoding": {
  "x": {"field": "x", "type": "quantitative", "scale": {"domain": [-8.138, 7.95], "nice": false, "zero": false}, "axis": null},
  "x2": {"field": "x2"},
  "y": {"field": "y", "type": "quantitative", "scale": {"domain": [-7.63, 5.6004], "nice": false, "zero": false}, "axis": null},
  "y2": {"field": "y2"},
  "color": {"field": "r", "type": "nominal", "legend": null, "scale": {"domain": ["panel","band","cell","strip","sep","grid","frame","ctick","plusc","halo1","halo2","halo1b","ch1a","ch2a","ch1b","ch2b","red","box","ui","uiblue","t1","v1","t2","m1","m2","white","logo","play","pause","lab1","lab2a","lab2b","cap","tl","trigb"], "range": ["#f4fbf6","#c9c8b1","#e9c08f","#ab9f80","#eeeee4","#cfd5d0","#7b837c","#959d96","#8a928b","#aebbf2","#e6b999","#d2ddf5","#0a20d2","#b03a00","#1f3db0","#b8681e","#e01e1e","#e4e1d5","#141414","#1f40c0","#1b3b98","#2552c8","#c2660f","#0636ee","#c1560b","#ffffff","#0a66d9","#8c1ee8","#14a3a3","#1414e6","#84200a","#7a2800","#000000","#6f756f","#1a5fd0"]}}
 }},
{"transform": [{"filter": {"field": "k", "equal": "grid"}}],
 "mark": {"type": "rule", "strokeWidth": 2},
 "encoding": {"x": {"field": "x", "type": "quantitative"}, "x2": {"field": "x2"}, "y": {"field": "y", "type": "quantitative"}, "y2": {"field": "y2"}, "color": {"field": "r", "type": "nominal", "legend": null}}},
{"transform": [{"filter": {"field": "k", "equal": "ct"}}],
 "mark": {"type": "rule", "strokeWidth": 7, "strokeDash": [2, 20.675], "strokeDashOffset": 1, "strokeCap": "butt"},
 "encoding": {"x": {"field": "x", "type": "quantitative"}, "x2": {"field": "x2"}, "y": {"field": "y", "type": "quantitative"}, "y2": {"field": "y2"}, "color": {"field": "r", "type": "nominal", "legend": null}}},
{"transform": [{"filter": {"field": "k", "equal": "halo"}}],
 "mark": {"type": "rule", "strokeWidth": 16, "opacity": 0.8},
 "encoding": {"x": {"field": "x", "type": "quantitative"}, "x2": {"field": "x2"}, "y": {"field": "y", "type": "quantitative"}, "y2": {"field": "y2"}, "color": {"field": "r", "type": "nominal", "legend": null}}},
{"transform": [{"filter": {"field": "k", "equal": "tr"}}],
 "mark": {"type": "line", "strokeWidth": 2.6, "strokeJoin": "round"},
 "encoding": {"x": {"field": "x", "type": "quantitative"}, "y": {"field": "y", "type": "quantitative"}, "color": {"field": "r", "type": "nominal", "legend": null}}},
{"transform": [{"filter": {"field": "k", "equal": "band"}}],
 "mark": {"type": "rule", "strokeWidth": 9, "strokeCap": "butt"},
 "encoding": {"x": {"field": "x", "type": "quantitative"}, "x2": {"field": "x2"}, "y": {"field": "y", "type": "quantitative"}, "y2": {"field": "y2"}, "color": {"field": "r", "type": "nominal", "legend": null}}},
{"transform": [{"filter": {"field": "k", "equal": "cur"}}],
 "mark": {"type": "rule", "strokeWidth": 2, "strokeDash": [10, 4, 2, 4]},
 "encoding": {"x": {"field": "x", "type": "quantitative"}, "x2": {"field": "x2"}, "y": {"field": "y", "type": "quantitative"}, "y2": {"field": "y2"}, "color": {"field": "r", "type": "nominal", "legend": null}}},
{"transform": [{"filter": {"field": "k", "equal": "fr"}}],
 "mark": {"type": "rect", "filled": false, "strokeWidth": 4.5},
 "encoding": {"x": {"field": "x", "type": "quantitative"}, "x2": {"field": "x2"}, "y": {"field": "y", "type": "quantitative"}, "y2": {"field": "y2"}, "color": {"field": "r", "type": "nominal", "legend": null}}},
{"transform": [{"filter": {"field": "k", "equal": "mt"}}],
 "mark": {"type": "rule", "strokeWidth": 15, "strokeDash": [3, 110.375], "strokeDashOffset": 1.5, "strokeCap": "butt"},
 "encoding": {"x": {"field": "x", "type": "quantitative"}, "x2": {"field": "x2"}, "y": {"field": "y", "type": "quantitative"}, "y2": {"field": "y2"}, "color": {"field": "r", "type": "nominal", "legend": null}}},
{"transform": [{"filter": {"field": "k", "equal": "nt"}}],
 "mark": {"type": "rule", "strokeWidth": 9, "strokeDash": [2.5, 20.175], "strokeDashOffset": 1.25, "strokeCap": "butt"},
 "encoding": {"x": {"field": "x", "type": "quantitative"}, "x2": {"field": "x2"}, "y": {"field": "y", "type": "quantitative"}, "y2": {"field": "y2"}, "color": {"field": "r", "type": "nominal", "legend": null}}},
{"transform": [{"filter": {"field": "k", "equal": "tl"}}],
 "mark": {"type": "rule", "strokeWidth": 5},
 "encoding": {"x": {"field": "x", "type": "quantitative"}, "x2": {"field": "x2"}, "y": {"field": "y", "type": "quantitative"}, "y2": {"field": "y2"}, "color": {"field": "r", "type": "nominal", "legend": null}}},
{"transform": [{"filter": {"field": "k", "equal": "br"}}],
 "mark": {"type": "text", "font": "DejaVu Sans", "fontSize": 44, "align": "center", "baseline": "alphabetic"},
 "encoding": {"x": {"field": "x", "type": "quantitative"}, "y": {"field": "y", "type": "quantitative"}, "text": {"field": "t"}, "color": {"field": "r", "type": "nominal", "legend": null}}},
{"transform": [{"filter": {"field": "k", "equal": "sym"}}],
 "mark": {"type": "point", "filled": true, "size": 3600, "opacity": 1},
 "encoding": {"x": {"field": "x", "type": "quantitative"}, "y": {"field": "y", "type": "quantitative"}, "color": {"field": "r", "type": "nominal", "legend": null},
  "shape": {"field": "sh", "type": "nominal", "legend": null, "scale": {"domain": ["play","pause","tmark","chev","trigT","tlev","circ","usb","plus","edge"], "range": ["M-0.367,-0.517L0.367,0L-0.367,0.517Z","M-0.38,-0.58H-0.18V0.58H-0.38ZM0.18,-0.58H0.38V0.58H0.18Z","M-0.17,-0.13H0.17L0,0.13Z","M-0.75,-0.467H0.35L0.75,0L0.35,0.467H-0.75L-0.55,0Z","M-0.4,-0.583H0.4V0.25L0,0.583L-0.4,0.25Z","M-0.583,0L0.583,-0.5L0.4,0L0.583,0.5Z","M0.6,0A0.6,0.62,0,1,1,-0.6,0A0.6,0.62,0,1,1,0.6,0Z","M0,-0.6V0.6M-0.13,-0.42L0,-0.6L0.13,-0.42M0,0.25L-0.2,0.05V-0.15M0,0.35L0.2,0.15V-0.05","M-0.35,0H0.35M0,-0.35V0.35","M-0.63,0.45H-0.25L0.1,-0.45H0.63"]}}}},
{"transform": [{"filter": {"field": "k", "equal": "osym"}}],
 "mark": {"type": "point", "filled": true, "fill": "white", "strokeWidth": 3, "size": 3600, "opacity": 1},
 "encoding": {"x": {"field": "x", "type": "quantitative"}, "y": {"field": "y", "type": "quantitative"},
  "stroke": {"field": "r", "type": "nominal", "legend": null, "scale": {"domain": ["trigb","m2","red"], "range": ["#1a5fd0","#c1560b","#e01e1e"]}},
  "shape": {"field": "sh", "type": "nominal", "legend": null}}},
{"transform": [{"filter": {"field": "k", "equal": "lsym"}}],
 "mark": {"type": "point", "filled": false, "strokeWidth": 3, "size": 3600, "opacity": 1},
 "encoding": {"x": {"field": "x", "type": "quantitative"}, "y": {"field": "y", "type": "quantitative"}, "color": {"field": "r", "type": "nominal", "legend": null},
  "shape": {"field": "sh", "type": "nominal", "legend": null}}},
{"transform": [{"filter": {"field": "k", "equal": "cbx"}}],
 "mark": {"type": "rect", "stroke": "#c5ad86", "strokeWidth": 5},
 "encoding": {"x": {"field": "x", "type": "quantitative"}, "x2": {"field": "x2"}, "y": {"field": "y", "type": "quantitative"}, "y2": {"field": "y2"}, "color": {"field": "r", "type": "nominal", "legend": null}}},
{"transform": [{"filter": {"field": "k", "equal": "sb"}}],
 "mark": {"type": "rect"},
 "encoding": {"x": {"field": "x", "type": "quantitative"}, "x2": {"field": "x2"}, "y": {"field": "y", "type": "quantitative"}, "y2": {"field": "y2"}, "color": {"field": "r", "type": "nominal", "legend": null}}},
{"transform": [{"filter": {"field": "k", "equal": "dig"}}],
 "mark": {"type": "text", "font": "Liberation Sans", "fontSize": 25, "fontWeight": "bold", "align": "center", "baseline": "middle"},
 "encoding": {"x": {"field": "x", "type": "quantitative"}, "y": {"field": "y", "type": "quantitative"}, "text": {"field": "t"}, "color": {"field": "r", "type": "nominal", "legend": null}}},
{"transform": [{"filter": {"field": "k", "equal": "ui"}}],
 "mark": {"type": "text", "font": "Liberation Sans", "fontSize": 32, "align": "left", "baseline": "alphabetic"},
 "encoding": {"x": {"field": "x", "type": "quantitative"}, "y": {"field": "y", "type": "quantitative"}, "text": {"field": "t"}, "color": {"field": "r", "type": "nominal", "legend": null}}},
{"transform": [{"filter": {"field": "k", "equal": "logo"}}],
 "mark": {"type": "text", "font": "Liberation Sans", "fontSize": 60, "fontWeight": "bold", "align": "left", "baseline": "alphabetic"},
 "encoding": {"x": {"field": "x", "type": "quantitative"}, "y": {"field": "y", "type": "quantitative"}, "text": {"field": "t"}, "color": {"field": "r", "type": "nominal", "legend": null}}},
{"transform": [{"filter": {"field": "k", "equal": "ann"}}],
 "mark": {"type": "text", "font": "Liberation Serif", "fontSize": 60, "align": "left", "baseline": "alphabetic"},
 "encoding": {"x": {"field": "x", "type": "quantitative"}, "y": {"field": "y", "type": "quantitative"}, "text": {"field": "t"}, "color": {"field": "r", "type": "nominal", "legend": null}}},
{"transform": [{"filter": {"field": "k", "equal": "cp"}}],
 "mark": {"type": "text", "font": "Liberation Serif", "fontSize": 82, "align": "center", "baseline": "alphabetic"},
 "encoding": {"x": {"field": "x", "type": "quantitative"}, "y": {"field": "y", "type": "quantitative"}, "text": {"field": "t"}, "color": {"field": "r", "type": "nominal", "legend": null}}},
{"transform": [{"filter": {"field": "k", "equal": "cl"}}],
 "mark": {"type": "text", "font": "Liberation Serif", "fontSize": 82, "fontWeight": "bold", "align": "center", "baseline": "alphabetic"},
 "encoding": {"x": {"field": "x", "type": "quantitative"}, "y": {"field": "y", "type": "quantitative"}, "text": {"field": "t"}, "color": {"field": "r", "type": "nominal", "legend": null}}}
]
}
}
